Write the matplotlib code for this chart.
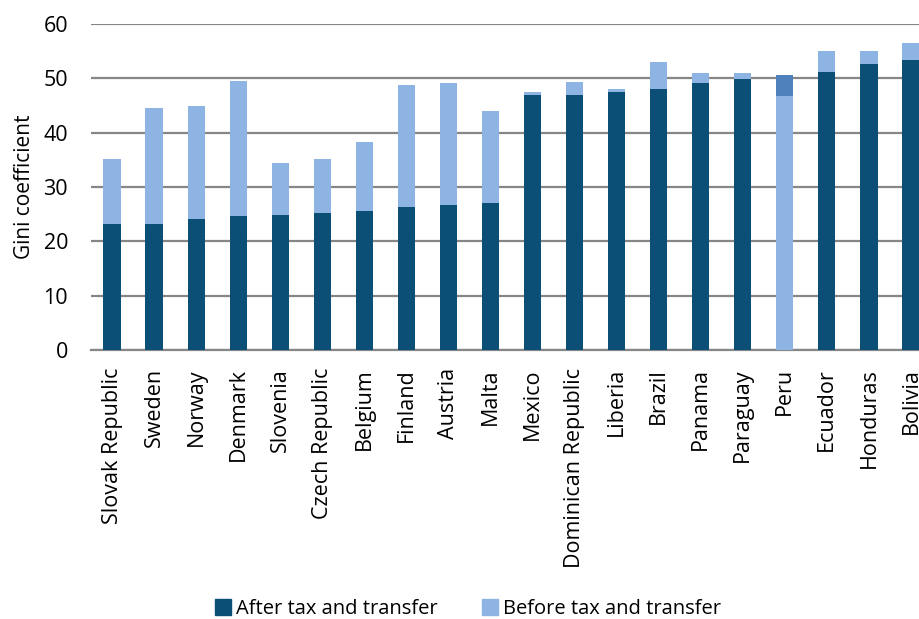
import matplotlib
matplotlib.use("Agg")
import matplotlib.pyplot as plt
from matplotlib.patches import Patch

countries = ["Slovak Republic", "Sweden", "Norway", "Denmark", "Slovenia",
             "Czech Republic", "Belgium", "Finland", "Austria", "Malta",
             "Mexico", "Dominican Republic", "Liberia", "Brazil", "Panama",
             "Paraguay", "Peru", "Ecuador", "Honduras", "Bolivia"]
after_tax = [23.2, 23.2, 24.2, 24.6, 24.9, 25.3, 25.6, 26.4, 26.7, 27.1,
             47.0, 47.0, 47.4, 48.0, 49.1, 49.8, 50.6, 51.2, 52.6, 53.3]
before_tax = [35.2, 44.6, 45.0, 49.5, 34.4, 35.2, 38.3, 48.8, 49.1, 43.9,
              47.4, 49.4, 48.0, 53.0, 50.9, 50.9, 46.75, 55.1, 55.1, 56.5]

DARK = "#0B4F77"
LIGHT = "#8EB4E3"
MEDIUM = "#4F81BD"
GRID = "#868686"

plt.rcParams['font.family'] = ['Open Sans', 'DejaVu Sans']

fig = plt.figure(figsize=(9.2, 6.19), dpi=100)
ax = fig.add_axes([91/920, 1-350/619, 841/920, 326/619])

x = list(range(len(countries)))
w = 0.41
for i in x:
    a, b = after_tax[i], before_tax[i]
    if a <= b:
        ax.bar(i, b, width=w, color=LIGHT, zorder=2)
        ax.bar(i, a, width=w, color=DARK, zorder=3)
    else:
        ax.bar(i, a, width=w, color=MEDIUM, zorder=2)
        ax.bar(i, b, width=w, color=LIGHT, zorder=3)

ax.set_xlim(-0.5, len(countries) - 0.5)
ax.set_ylim(0, 60)
ax.set_yticks(range(0, 61, 10))
ax.yaxis.grid(True, color=GRID, linewidth=1.6, zorder=0)
ax.set_axisbelow(True)
for s in ["top", "right", "left"]:
    ax.spines[s].set_visible(False)
ax.spines["bottom"].set_color(GRID)
ax.spines["bottom"].set_linewidth(1.6)
ax.tick_params(axis="y", length=0, pad=16.5, labelsize=15.5, labelcolor="#000000")
ax.tick_params(axis="x", length=0, pad=13)
ax.set_xticks(x)
ax.set_xticklabels(countries, rotation=90, fontsize=15.5, va="top", ha="center")
ax.set_ylabel("Gini coefficient", fontsize=15, labelpad=6)

handles = [Patch(color=DARK, label="After tax and transfer"),
           Patch(color=LIGHT, label="Before tax and transfer")]
fig.legend(handles=handles, loc="center", bbox_to_anchor=(468/920, 1-609/619),
           ncol=2, frameon=False, fontsize=14.5, handlelength=0.8, handleheight=0.8,
           handletextpad=0.25, columnspacing=2.2)

fig.savefig("out.png", dpi=100)
